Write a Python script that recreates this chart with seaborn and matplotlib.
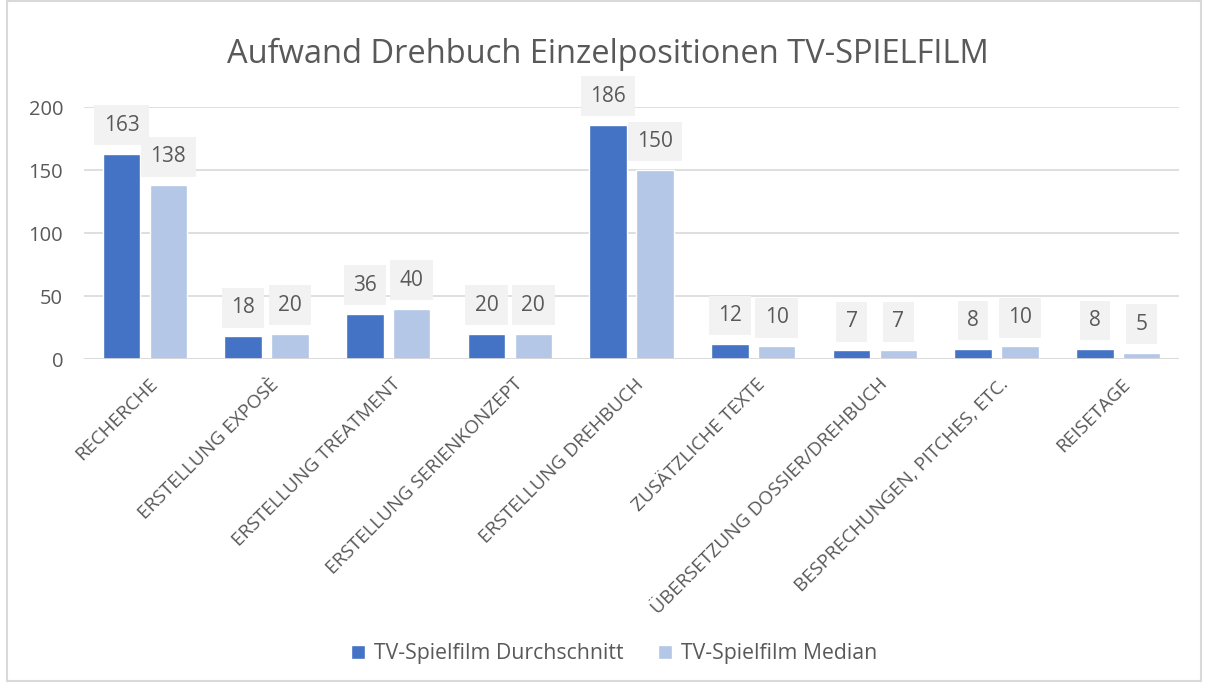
import matplotlib
matplotlib.use('Agg')
import matplotlib.pyplot as plt
import matplotlib.transforms as mtransforms
import seaborn as sns
import pandas as pd
from matplotlib.patches import Rectangle

categories = ['RECHERCHE', 'ERSTELLUNG EXPOSÈ', 'ERSTELLUNG TREATMENT',
              'ERSTELLUNG SERIENKONZEPT', 'ERSTELLUNG DREHBUCH',
              'ZUSÄTZLICHE TEXTE', 'ÜBERSETZUNG DOSSIER/DREHBUCH',
              'BESPRECHUNGEN, PITCHES, ETC.', 'REISETAGE']
durchschnitt = [163, 18, 36, 20, 186, 12, 7, 8, 8]
median = [138, 20, 40, 20, 150, 10, 7, 10, 5]
series = ['TV-Spielfilm Durchschnitt', 'TV-Spielfilm Median']
colors = ['#4472c4', '#b4c7e7']

df = pd.DataFrame({
    'Kategorie': categories * 2,
    'Wert': durchschnitt + median,
    'Serie': [series[0]] * len(categories) + [series[1]] * len(categories),
})

sns.set_style('white')
plt.rcParams['font.family'] = ['Open Sans', 'DejaVu Sans']
txt = '#595959'

fig = plt.figure(figsize=(12.06, 6.84), dpi=100)
ax = fig.add_axes([0.0697, 0.475, 0.908, 0.3685])

sns.barplot(data=df, x='Kategorie', y='Wert', hue='Serie', palette=colors,
            width=0.77, gap=0.2, saturation=1, ax=ax, zorder=3)

ax.set_ylim(0, 200)
ax.set_yticks([0, 50, 100, 150, 200])
ax.yaxis.grid(True, color='#d9d9d9', linewidth=1.2, zorder=0)
for s in ax.spines.values():
    s.set_visible(False)
ax.axhline(0, color='#d9d9d9', linewidth=1.2, zorder=4)
ax.set_xlabel('')
ax.set_ylabel('')
ax.tick_params(axis='y', labelsize=14.5, labelcolor=txt, length=0, pad=15)
ax.tick_params(axis='x', labelsize=13.8, labelcolor=txt, length=0, pad=8)
shift = mtransforms.ScaledTranslation(3 / 100, -5 / 100, fig.dpi_scale_trans)
for lab in ax.get_xticklabels():
    lab.set_rotation(45)
    lab.set_ha('right')
    lab.set_rotation_mode('anchor')
    lab.set_transform(lab.get_transform() + shift)

for cont in ax.containers:
    ax.bar_label(cont, fmt='%d', padding=13, fontsize=15, color=txt,
                 bbox=dict(boxstyle='square,pad=0.45', facecolor='#f2f2f2',
                           edgecolor='none'))

handles, labels = ax.get_legend_handles_labels()
ax.get_legend().remove()
leg = fig.legend(handles, labels, loc='center', bbox_to_anchor=(0.509, 0.044),
                 ncol=2, frameon=False, fontsize=15.3, handlelength=0.7,
                 handleheight=0.7, handletextpad=0.4, columnspacing=1.6)
for t in leg.get_texts():
    t.set_color(txt)

fig.suptitle('Aufwand Drehbuch Einzelpositionen TV-SPIELFILM', x=0.504, y=0.945,
             fontsize=23.5, color=txt)

fig.patches.append(Rectangle((0.006, 0.005), 0.99, 0.994, transform=fig.transFigure,
                             fill=False, edgecolor='#d9d9d9', linewidth=1.5))

plt.savefig('out.png', dpi=100)
